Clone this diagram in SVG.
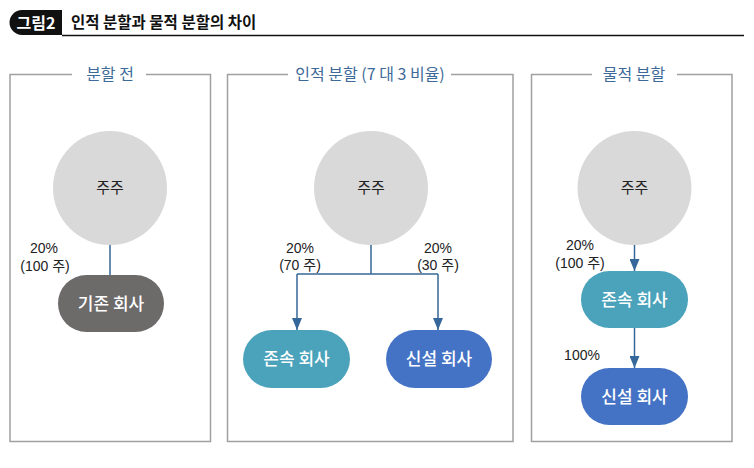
<svg xmlns="http://www.w3.org/2000/svg" width="754" height="468" viewBox="0 0 754 468">
<style>
.panel{fill:none;stroke:#a0a0a0;stroke-width:1.5}
.ptitle{font-family:"Noto Sans CJK KR","Noto Sans",sans-serif;font-size:16px;fill:#3d6a98;text-anchor:middle}
.lbl{font-family:"Liberation Sans","Noto Sans CJK KR",sans-serif;font-size:14px;fill:#222;text-anchor:middle}
.ntext{font-family:"Noto Sans CJK KR",sans-serif;font-size:17px;fill:#fff;text-anchor:middle;font-weight:500}
.ctext{font-family:"Noto Sans CJK KR",sans-serif;font-size:15px;fill:#222;text-anchor:middle}
.circ{fill:#d9d9d9}
.conn{fill:none;stroke:#36679a;stroke-width:1.5}
</style>
<defs>
<marker id="arr" markerWidth="12" markerHeight="10" refX="12" refY="5" orient="auto" markerUnits="userSpaceOnUse" viewBox="0 0 12 10">
<path d="M0,0 L12,5 L0,10 Z" fill="#36679a"/>
</marker>
</defs>
<rect width="754" height="468" fill="#fff"/>
<g id="header">
<path d="M22,10 H62 V35 H22 A12.5,12.5 0 0 1 22,10 Z" fill="#111"/>
<text x="36" y="29" font-family="Noto Sans CJK KR,sans-serif" font-size="16" font-weight="bold" fill="#fff" text-anchor="middle">그림2</text>
<text x="71" y="28" font-family="Noto Sans CJK KR,sans-serif" font-size="15.5" font-weight="bold" fill="#111">인적 분할과 물적 분할의 차이</text>
<line x1="62" y1="35.5" x2="744" y2="35.5" stroke="#111" stroke-width="1.5"/>
</g>
<g id="panel1">
<path class="panel" d="M72,74.5 H10 V441.5 H210.5 V74.5 H146"/>
<text class="ptitle" x="110" y="80">분할 전</text>
</g>
<g id="panel2">
<path class="panel" d="M288,74.5 H227.5 V441.5 H513 V74.5 H451"/>
<text class="ptitle" x="370" y="80">인적 분할 (7 대 3 비율)</text>
</g>
<g id="panel3">
<path class="panel" d="M592,74.5 H531.5 V441.5 H732 V74.5 H677"/>
<text class="ptitle" x="634" y="80">물적 분할</text>
</g>
<g id="connectors">
<line class="conn" x1="110" y1="245" x2="110" y2="275"/>
<path class="conn" d="M371,245 V274"/>
<path class="conn" d="M297,274 H438"/>
<path class="conn" d="M297,274 V330" marker-end="url(#arr)"/>
<path class="conn" d="M438,274 V330" marker-end="url(#arr)"/>
<path class="conn" d="M634.5,245 V271" marker-end="url(#arr)"/>
<path class="conn" d="M634.5,328 V368" marker-end="url(#arr)"/>
</g>
<g id="labels">
<text class="lbl" x="44" y="253">20%</text>
<text class="lbl" x="45" y="271">(100 주)</text>
<text class="lbl" x="300" y="253">20%</text>
<text class="lbl" x="300" y="270">(70 주)</text>
<text class="lbl" x="438" y="253">20%</text>
<text class="lbl" x="438" y="270">(30 주)</text>
<text class="lbl" x="580" y="250">20%</text>
<text class="lbl" x="580" y="268">(100 주)</text>
<text class="lbl" x="582" y="360">100%</text>
</g>
<g id="sh1"><circle class="circ" cx="110" cy="188" r="57"/><text class="ctext" x="110" y="193">주주</text></g>
<g id="sh2"><circle class="circ" cx="371" cy="188" r="57"/><text class="ctext" x="371" y="193">주주</text></g>
<g id="sh3"><circle class="circ" cx="634.5" cy="188" r="57"/><text class="ctext" x="634.5" y="193">주주</text></g>
<g id="existing"><rect x="58" y="275" width="106" height="57" rx="28.5" fill="#6d6a6a"/><text class="ntext" x="111" y="310">기존 회사</text></g>
<g id="surv2"><rect x="243" y="330" width="107" height="58" rx="29" fill="#4aa2bb"/><text class="ntext" x="296.5" y="365">존속 회사</text></g>
<g id="new2"><rect x="386" y="330" width="106" height="58" rx="29" fill="#4472c4"/><text class="ntext" x="439" y="365">신설 회사</text></g>
<g id="surv3"><rect x="581" y="271" width="107" height="57" rx="28.5" fill="#4aa2bb"/><text class="ntext" x="634.5" y="306">존속 회사</text></g>
<g id="new3"><rect x="581" y="368" width="107" height="57" rx="28.5" fill="#4472c4"/><text class="ntext" x="634.5" y="403">신설 회사</text></g>
</svg>
